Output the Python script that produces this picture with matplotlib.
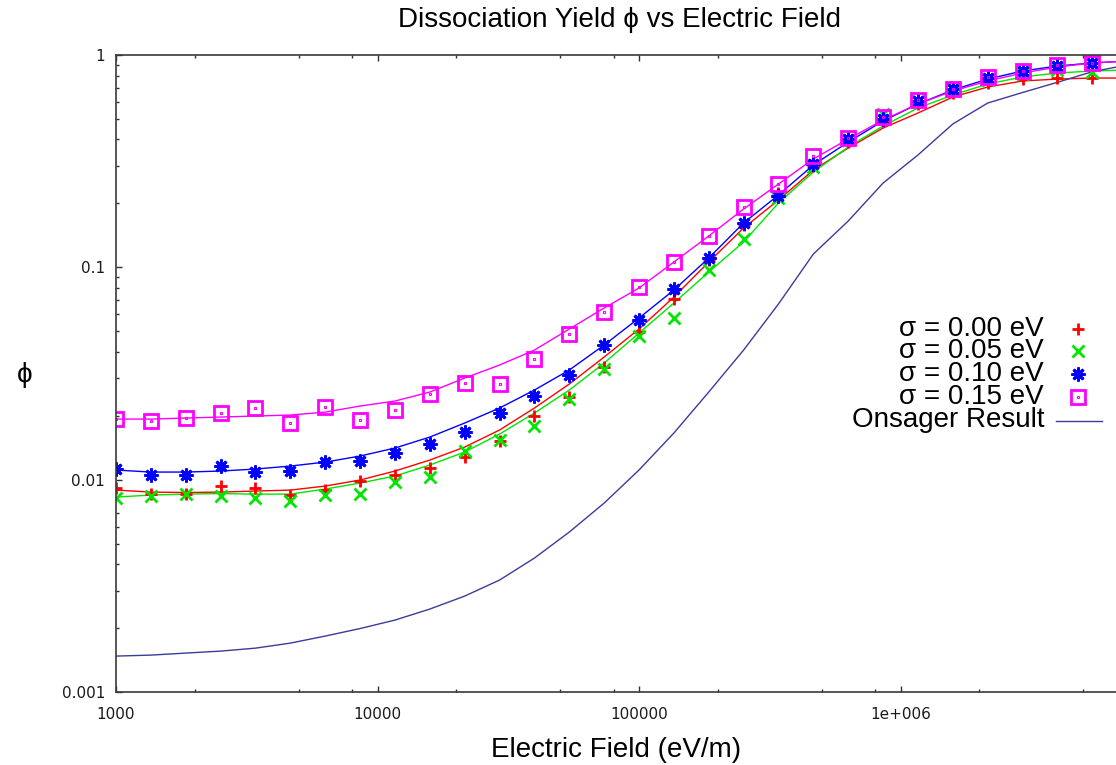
import matplotlib
matplotlib.use("Agg")
import matplotlib.pyplot as plt
from matplotlib.lines import Line2D
from matplotlib.ticker import LogLocator, NullFormatter, FixedLocator, FixedFormatter

plt.rcParams['font.family'] = ['Liberation Sans', 'DejaVu Sans']

# simulation points, field in eV/m
field = [1000, 1359, 1848, 2512, 3415, 4642, 6310, 8577, 11659, 15849,
         21544, 29286, 39811, 54117, 73564, 100000, 135936, 184785, 251189,
         341455, 464159, 630957, 857696, 1165914, 1584893, 2154435, 2928645,
         3981072, 5411695]

sim_000 = [0.00916, 0.00852, 0.00855, 0.00936, 0.00910, 0.00846, 0.00893,
           0.00988, 0.01051, 0.01130, 0.01282, 0.01525, 0.0200, 0.02458,
           0.0338, 0.0497, 0.0709, 0.1082, 0.158, 0.225, 0.30, 0.39, 0.49,
           0.588, 0.662, 0.738, 0.771, 0.779, 0.779]
sim_005 = [0.00816, 0.00840, 0.00852, 0.00840, 0.00816, 0.00793, 0.00846,
           0.00852, 0.00974, 0.01032, 0.01368, 0.01537, 0.01795, 0.02397,
           0.0332, 0.0475, 0.0579, 0.0971, 0.1359, 0.2113, 0.2978, 0.398,
           0.53, 0.607, 0.70, 0.76, 0.81, 0.85, 0.83]
sim_010 = [0.01122, 0.01051, 0.01051, 0.01159, 0.01082, 0.01098, 0.01207,
           0.01227, 0.01330, 0.01467, 0.01681, 0.02053, 0.02484, 0.03099,
           0.04305, 0.05628, 0.0790, 0.1110, 0.1622, 0.2167, 0.3066, 0.40,
           0.50, 0.607, 0.69, 0.78, 0.84, 0.89, 0.917]
sim_015 = [0.01929, 0.01894, 0.01957, 0.02053, 0.02167, 0.01841, 0.02191,
           0.01909, 0.02120, 0.02522, 0.02860, 0.02820, 0.03686, 0.04834,
           0.0616, 0.0810, 0.1063, 0.1409, 0.1929, 0.2460, 0.3355, 0.4078,
           0.5122, 0.6138, 0.6894, 0.7901, 0.8434, 0.8973, 0.9200]

# analytic curves, same grid plus one point past the edge
field_fit = field + [7356423]

fit_000 = [0.00893, 0.00874, 0.00870, 0.00874, 0.00884, 0.00893, 0.00933,
           0.00996, 0.01098, 0.01237, 0.01424, 0.01713, 0.02174, 0.02820,
           0.03779, 0.05122, 0.07246, 0.1059, 0.1532, 0.2075, 0.2872, 0.3646,
           0.4530, 0.5330, 0.6340, 0.7067, 0.7543, 0.7705, 0.7789, 0.7789]
fit_005 = [0.00828, 0.00846, 0.00855, 0.00860, 0.00855, 0.00855, 0.00903,
           0.00964, 0.01040, 0.01172, 0.01349, 0.01640, 0.02059, 0.02642,
           0.03541, 0.04904, 0.06790, 0.0950, 0.1316, 0.2009, 0.2811, 0.3687,
           0.4629, 0.5628, 0.6479, 0.7302, 0.7879, 0.8226, 0.8407, 0.85]
fit_010 = [0.01110, 0.01086, 0.01086, 0.01098, 0.01122, 0.01159, 0.01210,
           0.01292, 0.01409, 0.01587, 0.01848, 0.02174, 0.02642, 0.03283,
           0.04305, 0.05769, 0.07816, 0.1106, 0.1617, 0.2191, 0.3033, 0.3892,
           0.4888, 0.5877, 0.6842, 0.7705, 0.8407, 0.8875, 0.9170, 0.937]
fit_015 = [0.01929, 0.01929, 0.01951, 0.01972, 0.01994, 0.02015, 0.02081,
           0.02222, 0.02346, 0.02586, 0.03010, 0.03465, 0.04077, 0.05122,
           0.06433, 0.07988, 0.1059, 0.1404, 0.1882, 0.2468, 0.3237, 0.4020,
           0.4941, 0.5877, 0.6767, 0.7543, 0.8226, 0.8780, 0.9170, 0.937]
onsager = [0.001476, 0.001492, 0.001525, 0.001558, 0.001609, 0.001699,
           0.001834, 0.001990, 0.002181, 0.002458, 0.002829, 0.003366,
           0.004272, 0.005664, 0.007757, 0.01110, 0.01658, 0.02586, 0.04077,
           0.0672, 0.1155, 0.1652, 0.2494, 0.3381, 0.4732, 0.5940, 0.6659,
           0.7437, 0.8344, 0.897]

labels = ["σ = 0.00 eV", "σ = 0.05 eV", "σ = 0.10 eV", "σ = 0.15 eV",
          "Onsager Result"]

RED = '#ff0000'
GREEN = '#00e600'
BLUE = '#0000ff'
MAGENTA = '#ff00ff'
NAVY = '#3b3b9c'
ASTER = (8, 2, 0)

fig = plt.figure(figsize=(11.16, 7.65), dpi=100)
ax = fig.add_axes([116 / 1116, 73 / 765, 1046 / 1116, 637 / 765])
ax.set_xscale('log')
ax.set_yscale('log')
ax.set_xlim(1e3, 1e7)
ax.set_ylim(1e-3, 1)

# fitted curves
ax.plot(field_fit, fit_000, color=RED, lw=1.0)
ax.plot(field_fit, fit_005, color=GREEN, lw=1.0)
ax.plot(field_fit, fit_010, color=BLUE, lw=1.0)
ax.plot(field_fit, fit_015, color=MAGENTA, lw=1.0)
ax.plot(field_fit, onsager, color=NAVY, lw=1.0)

# simulation points
ax.plot(field, sim_000, ls='none', marker='+', ms=9, mew=2, color=RED)
ax.plot(field, sim_005, ls='none', marker='x', ms=9, mew=2, color=GREEN)
ax.plot(field, sim_010, ls='none', marker=ASTER, ms=10, mew=2, color=BLUE)
ax.plot(field, sim_015, ls='none', marker='s', ms=10, mew=2,
        mfc='none', mec=MAGENTA)
ax.plot(field, sim_015, ls='none', marker='s', ms=1.5, mew=0.8,
        mfc='none', mec=MAGENTA)

# ticks: gnuplot style, pointing inward on all sides
ax.xaxis.set_major_locator(FixedLocator([1e3, 1e4, 1e5, 1e6]))
ax.xaxis.set_major_formatter(FixedFormatter(["1000", "10000", "100000", "1e+006"]))
ax.xaxis.set_minor_locator(LogLocator(base=10, subs=[2, 5, 8]))
ax.xaxis.set_minor_formatter(NullFormatter())
ax.yaxis.set_major_locator(FixedLocator([1e-3, 1e-2, 1e-1, 1]))
ax.yaxis.set_major_formatter(FixedFormatter(["0.001", "0.01", "0.1", "1"]))
ax.yaxis.set_minor_locator(LogLocator(base=10, subs=range(2, 10)))
ax.yaxis.set_minor_formatter(NullFormatter())

ax.tick_params(which='both', direction='in', top=True, right=True,
               color='#303030', width=1.0)
ax.tick_params(which='major', length=4.5)
ax.tick_params(which='minor', length=2.5)
ax.tick_params(axis='x', which='major', pad=11, labelsize=11,
               labelcolor='#1a1a1a')
ax.tick_params(axis='y', which='major', pad=8, labelsize=11,
               labelcolor='#1a1a1a')
for lbl in ax.get_xticklabels() + ax.get_yticklabels():
    lbl.set_family('DejaVu Sans')
for sp in ax.spines.values():
    sp.set_color('#3a3a3a')
    sp.set_linewidth(1.2)

fig.text(620 / 1116, 1 - 20 / 765, "Dissociation Yield ϕ vs Electric Field",
         ha='center', va='center', fontsize=20)
fig.text(616 / 1116, 1 - 750 / 765, "Electric Field (eV/m)",
         ha='center', va='center', fontsize=20)
fig.text(25 / 1116, 1 - 375 / 765, "ϕ", ha='center', va='center',
         fontsize=20)

# key at the right, text right-aligned with sample to its right
row_y = [329, 351, 374, 397, 420]
styles = [dict(marker='+', ms=9, mew=2, color=RED, ls='none'),
          dict(marker='x', ms=9, mew=2, color=GREEN, ls='none'),
          dict(marker=ASTER, ms=10, mew=2, color=BLUE, ls='none'),
          dict(marker='s', ms=10, mew=2, mfc='none', mec=MAGENTA, ls='none')]
for lab, yy in zip(labels, row_y):
    fig.text(1044 / 1116, 1 - yy / 765, lab, ha='right', va='center',
             fontsize=20)
for st, yy in zip(styles, row_y[:4]):
    fig.add_artist(Line2D([1078 / 1116], [1 - yy / 765],
                          transform=fig.transFigure, **st))
fig.add_artist(Line2D([1078 / 1116], [1 - 397 / 765], transform=fig.transFigure,
                      marker='s', ms=1.5, mew=0.8, mfc='none', mec=MAGENTA,
                      ls='none'))
fig.add_artist(Line2D([1056 / 1116, 1102 / 1116], [1 - 421 / 765, 1 - 421 / 765],
                      transform=fig.transFigure, color=NAVY, lw=1.0))

fig.savefig("out.png", dpi=100)
